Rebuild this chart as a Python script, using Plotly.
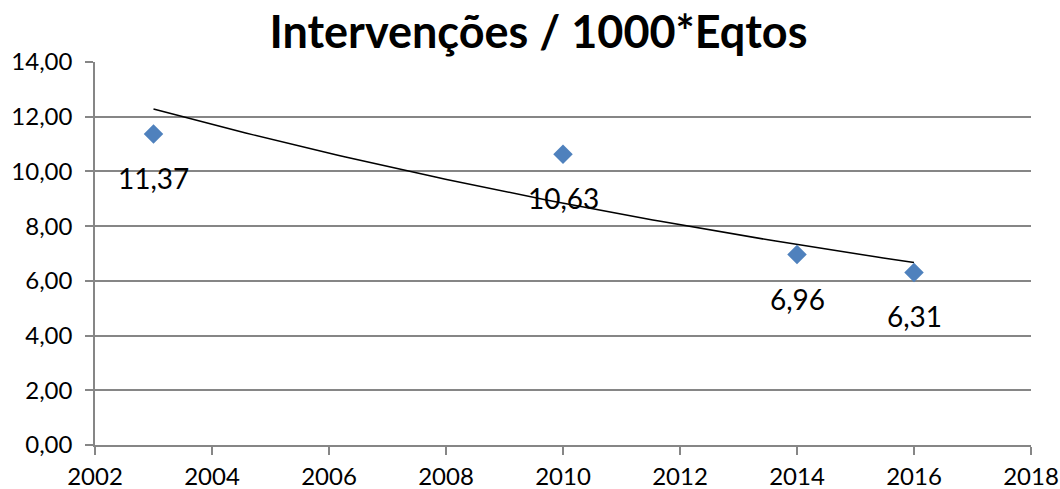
import numpy as np
import plotly.graph_objects as go

# Interventions per 1000 equipments, by year
years = [2003, 2010, 2014, 2016]
values = [11.37, 10.63, 6.96, 6.31]
x_ticks = [2002, 2004, 2006, 2008, 2010, 2012, 2014, 2016, 2018]
y_ticks = [0, 2, 4, 6, 8, 10, 12, 14]

# Exponential trend line fitted on the data (y = a * exp(b*x))
b, ln_a = np.polyfit(years, np.log(values), 1)
trend_x = np.linspace(min(years), max(years), 100)
trend_y = np.exp(ln_a + b * trend_x)

font_family = "Lato, 'Open Sans', sans-serif"
grid_col = "#868686"

fig = go.Figure()
fig.add_trace(go.Scatter(
    x=trend_x, y=trend_y, mode="lines",
    line=dict(color="black", width=1.5), hoverinfo="skip",
))
fig.add_trace(go.Scatter(
    x=years, y=values, mode="markers",
    marker=dict(symbol="diamond", size=15, color="#4F81BD",
                line=dict(width=0)),
))

for xv, yv in zip(years, values):
    fig.add_annotation(
        x=xv, y=yv, xref="x", yref="y", showarrow=False,
        text=f"{yv:.2f}".replace(".", ","), yshift=-44,
        font=dict(family=font_family, size=28, color="black"),
    )

fig.update_layout(
    width=1060, height=489,
    margin=dict(l=95, r=29, t=62, b=44, autoexpand=False),
    paper_bgcolor="white", plot_bgcolor="white",
    showlegend=False,
    separators=",.",
    title=dict(text="<b>Intervenções / 1000*Eqtos</b>", x=0.508, xanchor="center",
               y=0.935, yanchor="middle",
               font=dict(family=font_family, size=45, color="black")),
    font=dict(family=font_family, size=24, color="black"),
)
fig.update_xaxes(
    range=[2002, 2018], tickvals=x_ticks, tickformat="d",
    showgrid=False, showline=True, linecolor=grid_col, linewidth=1.5,
    ticks="outside", ticklen=8, tickcolor=grid_col, tickwidth=1.5,
    zeroline=False, tickfont=dict(size=24), automargin=False,
    ticklabelstandoff=1,
)
fig.update_yaxes(
    range=[0, 14], tickvals=y_ticks, tickformat=".2f",
    showgrid=True, gridcolor=grid_col, gridwidth=1.5,
    showline=True, linecolor=grid_col, linewidth=1.5,
    ticks="outside", ticklen=8, tickcolor=grid_col, tickwidth=1.5,
    zeroline=False, tickfont=dict(size=24), ticklabelstandoff=8,
    automargin=False,
)

fig.write_html("out.html")
